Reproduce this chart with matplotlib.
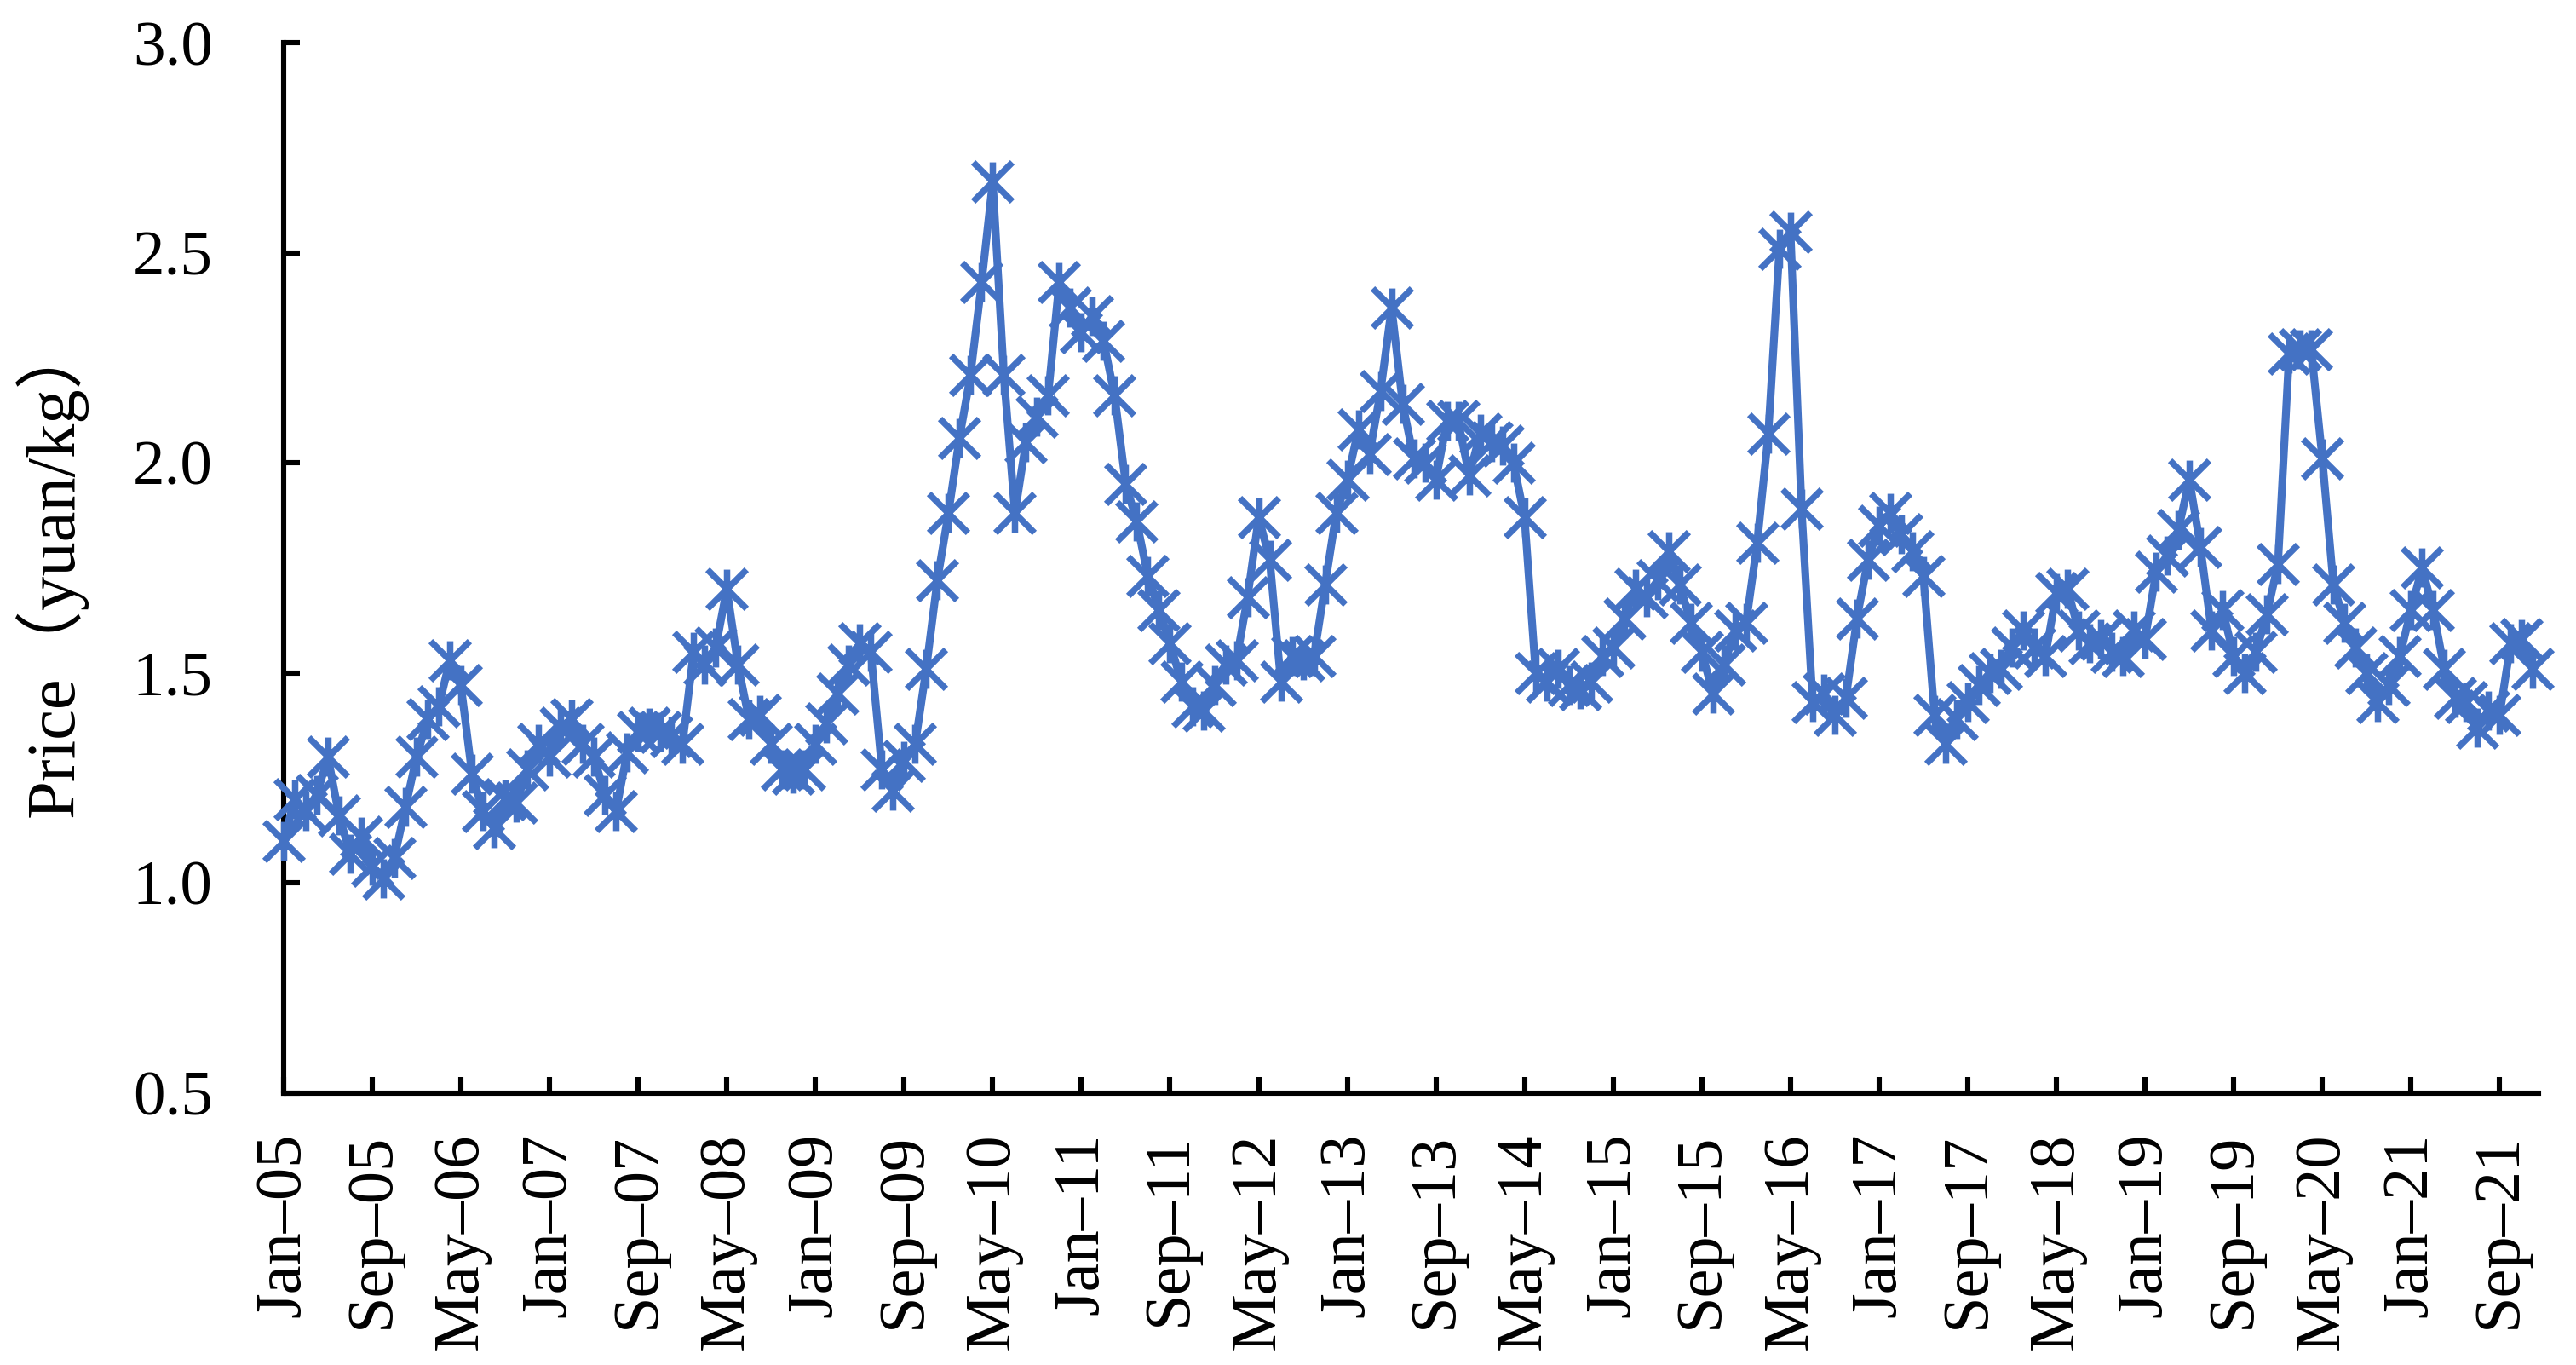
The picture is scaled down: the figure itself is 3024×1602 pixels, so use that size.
import numpy as np
import matplotlib.pyplot as plt
from matplotlib.path import Path

# monthly price, Jan-05 .. Dec-21
prices = [
    1.10, 1.20, 1.17, 1.21, 1.30, 1.16, 1.07, 1.11, 1.04, 1.01, 1.06, 1.18,
    1.30, 1.39, 1.42, 1.53, 1.47, 1.26, 1.17, 1.13, 1.20, 1.19, 1.27, 1.33,
    1.30, 1.37, 1.39, 1.33, 1.30, 1.21, 1.17, 1.31, 1.36, 1.37, 1.36, 1.35,
    1.33, 1.55, 1.52, 1.56, 1.70, 1.52, 1.39, 1.40, 1.33, 1.27, 1.26, 1.27,
    1.33, 1.38, 1.45, 1.52, 1.57, 1.55, 1.27, 1.22, 1.29, 1.33, 1.51, 1.72,
    1.88, 2.06, 2.21, 2.43, 2.67, 2.21, 1.88, 2.05, 2.11, 2.16, 2.43, 2.37,
    2.31, 2.35, 2.29, 2.16, 1.95, 1.86, 1.73, 1.65, 1.57, 1.48, 1.42, 1.41,
    1.47, 1.52, 1.53, 1.68, 1.87, 1.77, 1.48, 1.54, 1.53, 1.54, 1.71, 1.88,
    1.96, 2.08, 2.02, 2.17, 2.37, 2.14, 2.01, 2.00, 1.96, 2.10, 2.10, 1.97,
    2.07, 2.05, 2.04, 2.00, 1.87, 1.50, 1.48, 1.51, 1.47, 1.46, 1.48, 1.54,
    1.56, 1.63, 1.70, 1.68, 1.72, 1.79, 1.71, 1.62, 1.55, 1.45, 1.52, 1.60,
    1.62, 1.81, 2.07, 2.51, 2.55, 1.89, 1.43, 1.45, 1.40, 1.44, 1.63, 1.77,
    1.85, 1.88, 1.83, 1.79, 1.73, 1.40, 1.33, 1.39, 1.43, 1.47, 1.50, 1.51,
    1.56, 1.60, 1.56, 1.54, 1.69, 1.70, 1.60, 1.57, 1.58, 1.55, 1.54, 1.60,
    1.58, 1.74, 1.78, 1.84, 1.96, 1.80, 1.60, 1.65, 1.54, 1.50, 1.55, 1.64,
    1.76, 2.26, 2.27, 2.27, 2.01, 1.71, 1.62, 1.56, 1.50, 1.43, 1.47, 1.54,
    1.65, 1.75, 1.65, 1.51, 1.44, 1.43, 1.37, 1.41, 1.40, 1.57, 1.58, 1.51,
]

# one label every 8 months
tick_labels = [
    "Jan–05", "Sep–05", "May–06", "Jan–07", "Sep–07", "May–08", "Jan–09",
    "Sep–09", "May–10", "Jan–11", "Sep–11", "May–12", "Jan–13", "Sep–13",
    "May–14", "Jan–15", "Sep–15", "May–16", "Jan–17", "Sep–17", "May–18",
    "Jan–19", "Sep–19", "May–20", "Jan–21", "Sep–21",
]
y_ticks = [0.5, 1.0, 1.5, 2.0, 2.5, 3.0]

blue = '#4472C4'
serif = ['Liberation Serif', 'DejaVu Serif']

# Excel style "star" marker: an x with a vertical bar
star = Path([(-1, -1), (1, 1), (-1, 1), (1, -1), (0, -1), (0, 1)],
            [Path.MOVETO, Path.LINETO] * 3)

fig = plt.figure(figsize=(15.12, 8.01), dpi=200)
ax = fig.add_axes([0.1101, 0.1994, 0.8753, 0.7692])

x = np.arange(len(prices))
ax.plot(x, prices, color=blue, lw=3.3, marker=star, ms=16.5, mfc='none',
        mec=blue, mew=2.7, clip_on=False, zorder=3)

ax.set_xlim(0, 203.5)
ax.set_ylim(0.5, 3.0)

ax.set_xticks(np.arange(0, len(prices), 8))
ax.set_xticklabels(tick_labels, rotation=90, family=serif, fontsize=27.5)
ax.set_yticks(y_ticks)
ax.set_yticklabels([f'{v:.1f}' for v in y_ticks], family=serif, fontsize=27)

ax.tick_params(axis='x', direction='in', length=7, width=2.2, pad=17)
ax.tick_params(axis='y', direction='in', length=7, width=2.2, pad=30)

for side in ['top', 'right']:
    ax.spines[side].set_visible(False)
for side in ['left', 'bottom']:
    ax.spines[side].set_linewidth(2.2)

ax.set_ylabel('Price（yuan/kg）', family=['Liberation Serif', 'Noto Sans CJK SC'],
              fontsize=29)
ax.yaxis.set_label_coords(-0.087, 0.5)

fig.savefig('out.png', dpi=200)
